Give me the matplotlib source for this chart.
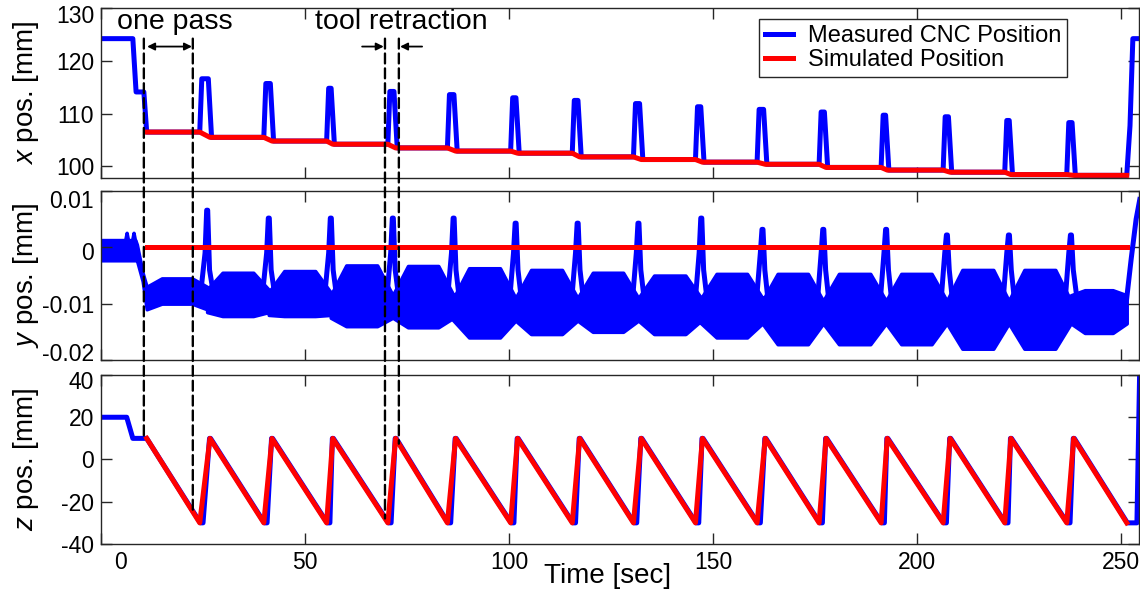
import numpy as np
import matplotlib
matplotlib.use('Agg')
import matplotlib.pyplot as plt
from matplotlib.patches import ConnectionPatch
from matplotlib.transforms import ScaledTranslation

plt.rcParams['font.family'] = ['Liberation Sans', 'DejaVu Sans']
plt.rcParams['axes.unicode_minus'] = False
plt.rcParams['mathtext.fontset'] = 'custom'
plt.rcParams['mathtext.it'] = 'Liberation Sans:italic'
plt.rcParams['mathtext.rm'] = 'Liberation Sans'

"""---------------------数据 (read off the figure)----------------------"""
# z sawtooth: times of bottom (-30 mm) and top (+10 mm) of each pass [sec]
t_bottom = [24.2, 39.9, 55.3, 70.3, 84.9, 100.4, 115.5, 130.5, 145.7, 160.8,
            176.0, 191.2, 206.4, 221.5, 236.7, 251.4]
t_peak = [26.7, 41.9, 56.8, 72.2, 86.9, 102.1, 117.3, 132.4, 147.4, 162.8,
          177.7, 192.7, 208.1, 223.0, 238.4]
z_top, z_bot = 10, -30
t_start = 11.2            # start of the first cut
z_approach_t = [0, 6.3, 7.8]
z_approach = [20, 20, 10]
z_end_t = [253.9, 254.6]
z_end = [-30, 45]

# x position: feed level of every pass and height of each retraction
x_level = [106.5, 105.5, 104.8, 104.2, 103.5, 102.9, 102.5, 101.8, 101.3,
           100.8, 100.4, 99.8, 99.3, 98.9, 98.45, 98.3]
x_retract = [116.6, 115.7, 114.8, 114.2, 113.6, 113.0, 112.5, 111.9, 111.3,
             110.8, 110.3, 109.7, 109.4, 108.7, 108.3]
x_approach_t = [0, 7.8, 8.6, 10.5]
x_approach = [124.2, 124.2, 114.1, 114.1]
x_end_t = [252.2, 252.9, 254.6]
x_end = [107.7, 124.2, 124.2]

# y position: spikes at each retraction and the noise band between them
t_yspike = [26.0, 41.1, 56.3, 71.5, 86.4, 101.6, 116.8, 131.7, 147.1, 162.1,
            177.0, 192.4, 207.3, 222.5, 237.7]
y_spike = [0.0066, 0.0052, 0.0052, 0.0052, 0.0052, 0.0043, 0.0043, 0.0043,
           0.0052, 0.0032, 0.0032, 0.0032, 0.0022, 0.0022, 0.0022]
band_edge_top = [-0.0070, -0.0075, -0.0080, -0.0085, -0.0085, -0.0090, -0.0090, -0.0090,
                 -0.0090, -0.0090, -0.0095, -0.0095, -0.0095, -0.0095, -0.0095, -0.0085]
band_edge_bot = [-0.0110, -0.0115, -0.0120, -0.0125, -0.0125, -0.0130, -0.0130, -0.0130,
                 -0.0130, -0.0135, -0.0135, -0.0135, -0.0135, -0.0135, -0.0135, -0.0135]
band_mid_top = [-0.0055, -0.0045, -0.0042, -0.0032, -0.0033, -0.0037, -0.0040, -0.0045,
                -0.0050, -0.0047, -0.0047, -0.0047, -0.0047, -0.0040, -0.0040, -0.0076]
band_mid_bot = [-0.0100, -0.0122, -0.0122, -0.0140, -0.0142, -0.0160, -0.0154, -0.0150,
                -0.0154, -0.0160, -0.0172, -0.0172, -0.0172, -0.0180, -0.0180, -0.0152]
y_start_t = [0, 8.4, 8.8, 10.2, 11.2]
y_start_top = [0.0013, 0.0013, 0.0005, -0.0045, -0.0070]
y_start_bot = [-0.0023, -0.0023, -0.0023, -0.0060, -0.0110]
y_blip_t = [6.4, 8.1]
y_end_t = [251.4, 252.5, 253.7, 254.6]
y_end = [-0.009, -0.002, 0.005, 0.0085]

# annotations
t_dash_pass = [10.5, 22.5]
t_dash_retract = [69.6, 73.0]

xticks = [0, 50, 100, 150, 200, 250]
x_yticks = [100, 110, 120, 130]
y_yticks = [-0.02, -0.01, 0, 0.01]
y_ytick_labels = ['-0.02', '-0.01', '0', '0.01']
z_yticks = [-40, -20, 0, 20, 40]

"""---------------------曲线构造----------------------"""
# simulated z: straight sawtooth
zs_t = [t_start]
zs = [z_top]
for i in range(len(t_peak)):
    zs_t += [t_bottom[i], t_peak[i]]
    zs += [z_bot, z_top]
zs_t.append(t_bottom[-1])
zs.append(z_bot)

# measured z: short dwell at the bottom, slightly lagging ramp
zm_t = list(z_approach_t) + [t_start]
zm = list(z_approach) + [z_top]
for i in range(len(t_peak)):
    zm_t += [t_bottom[i] + 0.15, t_bottom[i] + 0.8, t_peak[i] - 0.1, t_peak[i] + 0.15]
    zm += [z_bot, z_bot, z_top, z_top]
zm_t += [t_bottom[-1] + 0.15] + z_end_t
zm += [z_bot] + z_end

# simulated x: one level per pass, changed while the tool retracts
xs_t = [t_start]
xs = [x_level[0]]
for i in range(len(t_peak)):
    xs_t += [t_bottom[i], t_peak[i]]
    xs += [x_level[i], x_level[i + 1]]
xs_t.append(t_bottom[-1])
xs.append(x_level[-1])

# measured x: retraction spikes
xm_t = list(x_approach_t) + [t_start]
xm = list(x_approach) + [x_level[0]]
for i in range(len(t_peak)):
    xm_t += [t_bottom[i], t_bottom[i] + 0.5, t_peak[i] - 0.4, t_peak[i] + 0.4]
    xm += [x_level[i], x_retract[i], x_retract[i], x_level[i + 1]]
xm_t += [t_bottom[-1]] + x_end_t
xm += [x_level[-1]] + x_end

# measured y: noise band
seg_s = [t_start] + t_yspike
seg_e = t_yspike + [t_bottom[-1]]
yb_t = list(y_start_t)
yb_top = list(y_start_top)
yb_bot = list(y_start_bot)
for k in range(len(seg_s)):
    d = seg_e[k] - seg_s[k]
    yb_t += [seg_s[k], seg_s[k] + 0.25 * d, seg_s[k] + 0.75 * d, seg_e[k]]
    yb_top += [band_edge_top[k], band_mid_top[k], band_mid_top[k], band_edge_top[k]]
    yb_bot += [band_edge_bot[k], band_mid_bot[k], band_mid_bot[k], band_edge_bot[k]]

"""---------------------绘图----------------------"""
blue = (0, 0, 1)
red = (1, 0, 0)
lw = 3.6
fig = plt.figure(figsize=(11.4, 5.9), dpi=100)
ax1 = fig.add_axes([0.0886, 0.6983, 0.9105, 0.2881])
ax2 = fig.add_axes([0.0886, 0.3898, 0.9105, 0.2864], sharex=ax1)
ax3 = fig.add_axes([0.0886, 0.0780, 0.9105, 0.2864], sharex=ax1)

# x
ax1.plot(xm_t, xm, color=blue, lw=lw, label='Measured CNC Position', solid_joinstyle='round')
ax1.plot(xs_t, xs, color=red, lw=lw, label='Simulated Position')
ax1.set_ylim(97.8, 130)
ax1.set_yticks(x_yticks)
ax1.set_ylabel(r'$x$ pos. [mm]', fontsize=20)

# y
ax2.fill_between(yb_t, yb_top, yb_bot, color=blue, lw=2.5, edgecolor=blue)
for i in range(len(t_yspike)):
    ts = t_yspike[i]
    k = i + 1
    ax2.plot([ts - 1.4, ts - 0.5, ts - 0.1, ts + 0.15, ts + 0.6, ts + 1.4],
             [band_edge_top[i], -0.001, y_spike[i], y_spike[i], -0.004, band_edge_top[k]],
             color=blue, lw=lw, solid_joinstyle='round')
for tb in y_blip_t:
    ax2.plot([tb - 0.4, tb, tb + 0.4], [0.0010, 0.0025, 0.0010], color=blue, lw=2.5)
ax2.plot(y_end_t, y_end, color=blue, lw=lw)
ax2.plot([t_start, t_bottom[-1]], [0, 0], color=red, lw=lw)
ax2.set_ylim(-0.02, 0.01)
ax2.set_yticks(y_yticks)
ax2.set_yticklabels(y_ytick_labels)
ax2.set_ylabel(r'$y$ pos. [mm]', fontsize=20)

# z
ax3.plot(zm_t, zm, color=blue, lw=lw)
ax3.plot(zs_t, zs, color=red, lw=lw)
ax3.set_ylim(-40, 40)
ax3.set_yticks(z_yticks)
ax3.set_ylabel(r'$z$ pos. [mm]', fontsize=20)
ax3.set_xlabel('Time [sec]', fontsize=20)

ax1.set_xlim(0, 254.4)
ax1.set_xticks(xticks)
for ax in (ax1, ax2, ax3):
    ax.tick_params(direction='in', top=True, right=True, length=8, width=1,
                   labelsize=16.5, colors='0.15', labelcolor='black', pad=5)
    for s in ax.spines.values():
        s.set_color('0.15')
        s.set_linewidth(1)
    ax.yaxis.set_label_coords(-0.058, 0.5)
ax1.tick_params(labelbottom=False)
ax2.tick_params(labelbottom=False)
ax3.xaxis.set_label_coords(0.488, -0.112)

leg = ax1.legend(loc='upper right', bbox_to_anchor=(0.9306, 0.935), borderaxespad=0,
                 fontsize=17, handlelength=1.2, handletextpad=0.6, fancybox=False,
                 framealpha=1, edgecolor='0.15', borderpad=0.25, labelspacing=0.1)
leg.get_frame().set_linewidth(1)

# dashed guide lines from the top panel down to the z curve
y_dash_top = 124.2
for td in t_dash_pass + t_dash_retract:
    z_hit = np.interp(td, zs_t, zs)
    con = ConnectionPatch(xyA=(td, y_dash_top), coordsA=ax1.transData,
                          xyB=(td, z_hit), coordsB=ax3.transData,
                          color='black', lw=1.7, linestyle=(0, (4.2, 2.1)))
    fig.add_artist(con)

y_arrow = 122.7
ax1.annotate('', xy=(t_dash_pass[0] + 0.8, y_arrow), xytext=(t_dash_pass[1] - 0.2, y_arrow),
             arrowprops=dict(arrowstyle='<|-|>', color='black', lw=1.3,
                             mutation_scale=11, shrinkA=0, shrinkB=0))
ax1.annotate('', xy=(t_dash_retract[0] - 0.3, y_arrow), xytext=(64.0, y_arrow),
             arrowprops=dict(arrowstyle='-|>', color='black', lw=1.3,
                             mutation_scale=11, shrinkA=0, shrinkB=0))
ax1.annotate('', xy=(t_dash_retract[1] + 0.3, y_arrow), xytext=(78.7, y_arrow),
             arrowprops=dict(arrowstyle='-|>', color='black', lw=1.3,
                             mutation_scale=11, shrinkA=0, shrinkB=0))
ax1.text(3.9, 127.3, 'one pass', fontsize=20.5, ha='left', va='center')
ax1.text(73.5, 127.3, 'tool retraction', fontsize=20.5, ha='center', va='center')


def nudge(label, dx_px, dy_px):
    # shift a tick label by a few pixels (edge labels sit inside the axes in the original)
    label.set_transform(label.get_transform() +
                        ScaledTranslation(dx_px / 100, dy_px / 100, fig.dpi_scale_trans))


nudge(ax3.get_xticklabels()[0], 19, 0)
nudge(ax1.get_yticklabels()[-1], 0, -6)
yl = ax2.get_yticklabels()
nudge(yl[0], 0, 8)
nudge(yl[2], 0, -4)
nudge(yl[3], 0, -8)
nudge(ax3.get_yticklabels()[-1], 0, -5)

fig.savefig('out.png', dpi=100)
